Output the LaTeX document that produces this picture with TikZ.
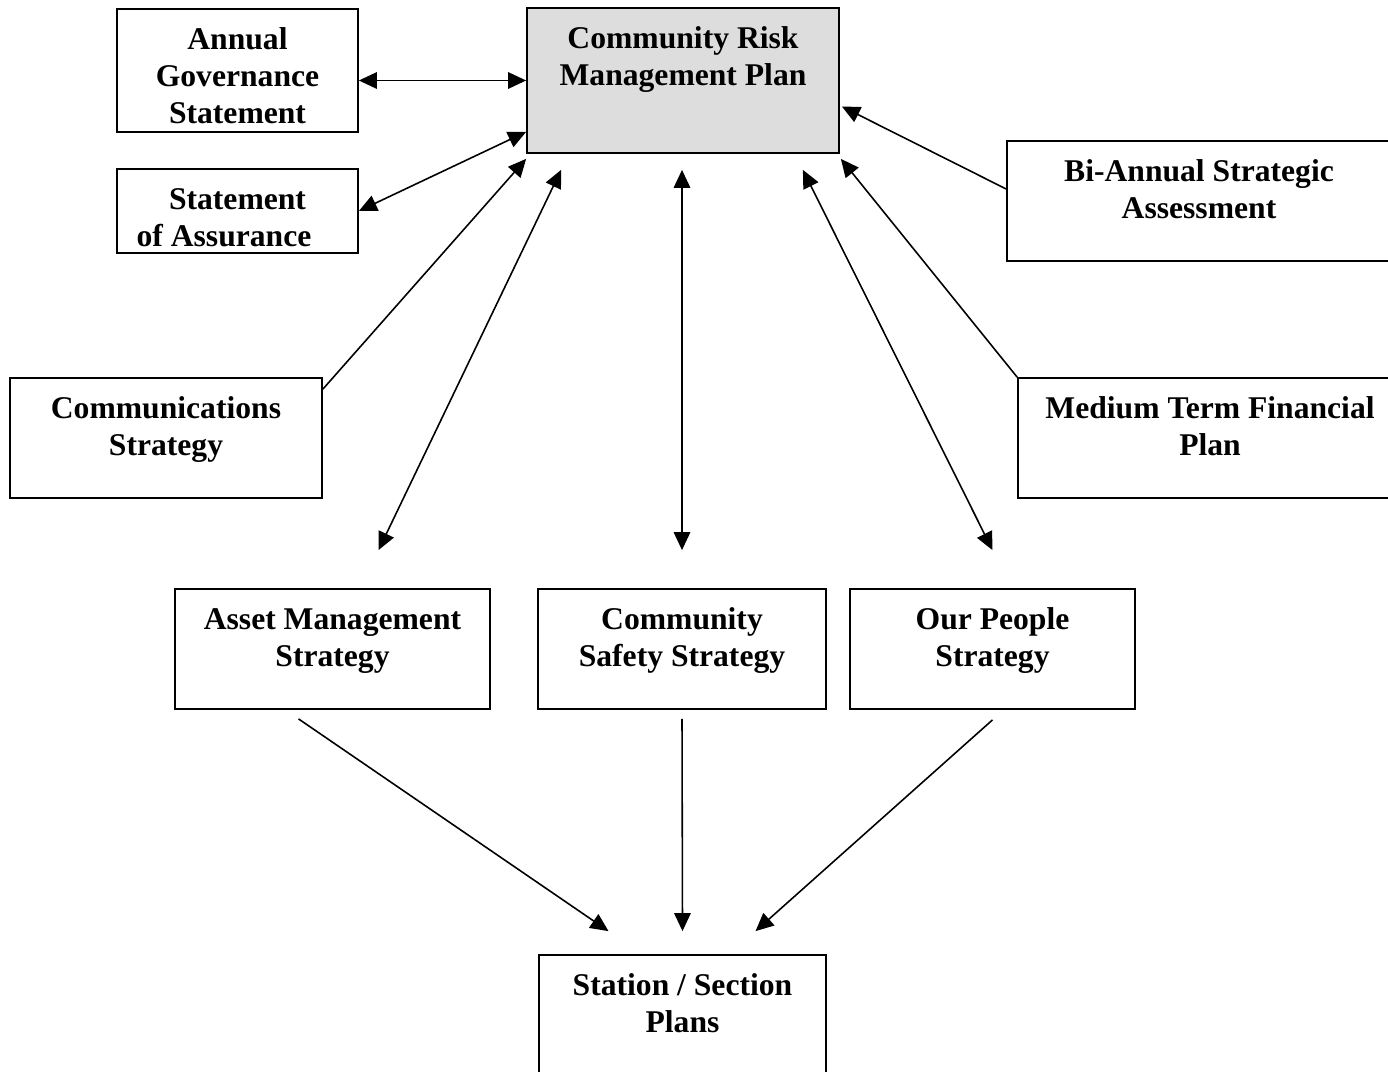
\documentclass[tikz,border=0pt]{standalone}
\usepackage{fontspec}
\setmainfont{Liberation Serif}
\usetikzlibrary{arrows.meta,calc}
\usepackage{xcolor}
\definecolor{crmpgray}{HTML}{DDDDDD}
\newdimen\pxunit \pxunit=0.02cm
\newcommand{\plantext}[3]{\parbox[c][#2\pxunit][t]{#1\pxunit}{\centering\rule{0pt}{23pt}#3}}

\begin{document}
\begin{tikzpicture}[x=0.02cm,y=-0.02cm,
  plan/.style={draw=black,line width=1pt,inner sep=0pt,font=\bfseries\fontsize{18}{21}\selectfont},
  link/.style={line width=0.9pt,-{Triangle[length=3.6mm,width=3.3mm]}},
  both/.style={line width=0.9pt,{Triangle[length=3.6mm,width=3.3mm]}-{Triangle[length=3.6mm,width=3.3mm]}}]
\useasboundingbox (0,0) rectangle (1388,1071);
%
{
\node (crmp) [plan,fill=crmpgray] at (683,80.5) {\plantext{312}{145}{Community Risk\\Management Plan}};
\node (ags) [plan] at (237.5,70.5) {\plantext{241}{123}{Annual\\Governance\\Statement}};
\node (soa) [plan] at (237.5,211) {\plantext{241}{84}{Statement\\of Assurance\hspace*{27\pxunit}}};
\node (basa) [plan] at (1199,201) {\plantext{384}{120}{Bi-Annual Strategic\\Assessment}};
}
%
{
\node (comms) [plan] at (166,438) {\plantext{312}{120}{Communications\\Strategy}};
\node (mtfp) [plan] at (1210,438) {\plantext{384}{120}{Medium Term Financial\\Plan}};
}
%
{
\node (ams) [plan] at (332.5,649) {\plantext{315}{120}{Asset Management\\Strategy}};
\node (css) [plan] at (682,649) {\plantext{288}{120}{Community\\Safety Strategy}};
\node (ops) [plan] at (992.5,649) {\plantext{285}{120}{Our People\\Strategy}};
\node (ssp) [plan] at (682.5,1015) {\plantext{287}{120}{Station / Section\\Plans}};
}
%
{
\path[both](ags.east |- crmp.west) edge (crmp.west);
\path[both](soa.east) edge ($(crmp.south west)+(0,-22)$);
\path[link]($(basa.west)+(0,-12)$) edge ($(crmp.east)+(2,26)$);
\path[link]($(comms.north east)+(0,12)$) edge ($(crmp.south west)+(0,5)$);
\path[link](mtfp.north west) edge ($(crmp.south east)+(1,5)$);
}
%
{
\path[both]($(ams.north)+(46,-38)$) edge ($(crmp.south west)+(35,16)$);
\path[both]($(css.north)+(0,-38)$) edge ($(crmp.south)+(-1,16)$);
\path[both]($(ops.north)+(0,-38)$) edge ($(crmp.south east)+(-37,16)$);
}
%
{
\path[link]($(ams.south)+(-34,9)$) edge ($(ssp.north)+(-74,-23)$);
\path[link]($(css.south)+(0,9)$) edge ($(ssp.north)+(0,-23)$);
\path[link]($(ops.south)+(0,10)$) edge ($(ssp.north)+(73,-23)$);
}
\end{tikzpicture}
\end{document}
